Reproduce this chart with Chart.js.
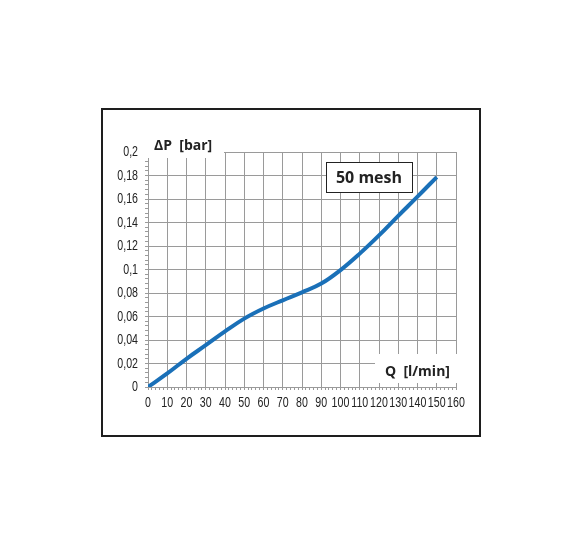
<!DOCTYPE html>
<html>
<head>
<meta charset="utf-8">
<script src="https://cdn.jsdelivr.net/npm/chart.js@4"></script>
<style>
  html, body { margin: 0; padding: 0; background: #fff; }
  #wrap { width: 581px; height: 549px; position: relative; }
</style>
</head>
<body>
<div id="wrap"><canvas id="my_chart" width="581" height="549"></canvas></div>
<script>
// flow [l/min] and pressure drop [bar]
var flow = [0, 10, 20, 30, 40, 50, 60, 70, 80, 90, 100, 110, 120, 130, 140, 150]
var pressure = [0, 0.0115, 0.024, 0.0356, 0.0473, 0.0582, 0.0668, 0.0738, 0.0805, 0.088, 0.0995, 0.1135, 0.129, 0.1457, 0.162, 0.1787]
var x_labels = [0, 10, 20, 30, 40, 50, 60, 70, 80, 90, 100, 110, 120, 130, 140, 150, 160]
var y_labels = [0, 0.02, 0.04, 0.06, 0.08, 0.1, 0.12, 0.14, 0.16, 0.18, 0.2]
var series_label = '50 mesh'
var x_title = 'Q  [l/min]'
var y_title = 'ΔP  [bar]'

var grid_col = '#9a9a9a'
var narrow = 0.76 // squeeze factor for the condensed tick font

var points = flow.map((q, i) => ({ x: q, y: pressure[i] }))

function squeezed(c, txt, x, y, align) {
  c.save()
  c.translate(x, y)
  c.scale(narrow, 1)
  c.textAlign = align
  c.fillText(txt, 0, 0)
  c.restore()
}

// frame, white masks and labels drawn around the plot
var decor = {
  id: 'decor',
  beforeDatasetsDraw(chart) {
    const c = chart.ctx
    c.save()
    c.fillStyle = '#fff'
    // mask behind the y title
    c.fillRect(145, 148, 79, 10)
    // mask behind the x title
    c.fillRect(375, 354, 84, 29)
    c.restore()
  },
  afterDraw(chart) {
    const c = chart.ctx
    const xs = chart.scales.x, ys = chart.scales.y
    c.save()
    // outer frame
    c.strokeStyle = '#1e1e1e'
    c.lineWidth = 2
    c.strokeRect(102, 109, 378, 327)

    // tick labels
    c.fillStyle = '#222'
    c.font = "14px 'Liberation Sans', Arial, sans-serif"
    c.textBaseline = 'middle'
    x_labels.forEach(v => squeezed(c, String(v), xs.getPixelForValue(v), 403.5, 'center'))
    y_labels.forEach(v => squeezed(c, String(v).replace('.', ','), 138, ys.getPixelForValue(v) + 0.5, 'right'))

    c.font = "bold 14px 'Open Sans', sans-serif"
    c.textAlign = 'left'
    c.fillText(y_title, 154, 146)
    c.fillText(x_title, 385, 372)

    // series box
    c.fillStyle = '#fff'
    c.fillRect(326, 162, 86, 30)
    c.strokeStyle = '#222'
    c.lineWidth = 1
    c.strokeRect(326.5, 162.5, 86, 30)
    c.fillStyle = '#222'
    c.font = "bold 16px 'Open Sans', sans-serif"
    c.textAlign = 'center'
    c.fillText(series_label, 369, 178)
    c.restore()
  }
}

var my_chart = new Chart(document.getElementById('my_chart'), {
  type: 'line',
  data: {
    datasets: [{
      label: series_label,
      data: points,
      borderColor: '#1a70b8',
      borderWidth: 4,
      pointRadius: 0,
      tension: 0.4,
      fill: false
    }]
  },
  options: {
    responsive: false,
    animation: false,
    layout: { padding: { left: 100, right: 125, top: 152, bottom: 132 } },
    plugins: { legend: { display: false }, tooltip: { enabled: false } },
    scales: {
      x: {
        type: 'linear',
        min: 0,
        max: 160,
        afterFit: (s) => { s.height = 30 },
        border: { color: grid_col, width: 1 },
        grid: {
          color: (ctx) => (ctx.tick && ctx.tick.value % 10 === 0) ? grid_col : 'rgba(0,0,0,0)',
          tickColor: grid_col,
          tickLength: 3,
          lineWidth: 1
        },
        ticks: {
          stepSize: 2,
          autoSkip: false,
          maxRotation: 0,
          callback: () => ''
        }
      },
      y: {
        type: 'linear',
        min: 0,
        max: 0.2,
        afterFit: (s) => { s.width = 48 },
        border: { color: grid_col, width: 1 },
        grid: {
          color: (ctx) => (ctx.tick && Math.round(ctx.tick.value * 1000) % 20 === 0) ? grid_col : 'rgba(0,0,0,0)',
          tickColor: grid_col,
          tickLength: 3,
          lineWidth: 1
        },
        ticks: {
          stepSize: 0.004,
          autoSkip: false,
          callback: () => ''
        }
      }
    }
  },
  plugins: [decor]
})
</script>
</body>
</html>
